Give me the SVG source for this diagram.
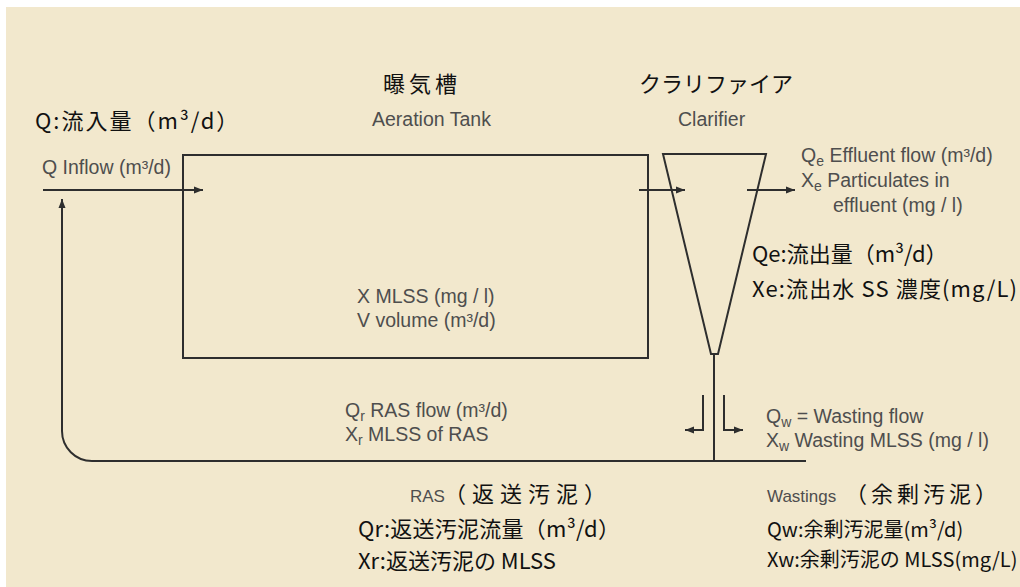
<svg xmlns="http://www.w3.org/2000/svg" width="1020" height="587" viewBox="0 0 1020 587">
<defs>
<style>
.en{font-family:"Liberation Sans",Arial,sans-serif;font-size:19.5px;fill:#4e4e4e}
.jp{font-family:"Noto Sans CJK JP","Noto Sans",sans-serif;font-size:22px;fill:#111}
.ln{fill:none;stroke:#2e2e2e;stroke-width:2}
.sub{font-size:14px}
.sm{font-size:17px}
</style>
<marker id="ah" markerUnits="userSpaceOnUse" markerWidth="9" markerHeight="8" refX="9" refY="4" orient="auto">
<path d="M0,0.5 L9,4 L0,7.5 z" fill="#2e2e2e"/>
</marker>
</defs>
<rect x="0" y="0" width="1020" height="587" fill="#ffffff"/>
<rect x="6" y="7" width="1014" height="580" fill="#F2E8CD"/>

<g id="aeration-tank">
<rect class="ln" x="183" y="155" width="465" height="203"/>
<text class="jp" x="383" y="92" letter-spacing="4">曝気槽</text>
<text class="en" x="372" y="126">Aeration Tank</text>
<text class="en" x="357" y="303">X MLSS (mg / l)</text>
<text class="en" x="357" y="327">V volume (m³/d)</text>
</g>

<g id="clarifier">
<path class="ln" d="M663,154 H766 L718,354 H711 Z"/>
<text class="jp" x="639" y="92">クラリファイア</text>
<text class="en" x="678" y="126">Clarifier</text>
</g>

<g id="inflow">
<text class="jp" x="35" y="129" letter-spacing="2">Q:流入量（m³/d）</text>
<text class="en" x="42" y="174">Q Inflow (m³/d)</text>
</g>

<g id="effluent">
<text class="en" x="801" y="162">Q<tspan class="sub" dy="4">e</tspan><tspan dy="-4"> Effluent flow (m³/d)</tspan></text>
<text class="en" x="801" y="187">X<tspan class="sub" dy="4">e</tspan><tspan dy="-4"> Particulates in</tspan></text>
<text class="en" x="833" y="212">effluent (mg / l)</text>
<text class="jp" x="752" y="262">Qe:流出量（m³/d）</text>
<text class="jp" x="752" y="297" textLength="265">Xe:流出水 SS 濃度(mg/L)</text>
</g>

<g id="ras">
<text class="en" x="345" y="417">Q<tspan class="sub" dy="4">r</tspan><tspan dy="-4"> RAS flow (m³/d)</tspan></text>
<text class="en" x="345" y="441">X<tspan class="sub" dy="4">r</tspan><tspan dy="-4"> MLSS of RAS</tspan></text>
<text class="en sm" x="410" y="502">RAS</text>
<text class="jp" x="444" y="502" letter-spacing="6">（返送汚泥）</text>
<text class="jp" x="358" y="537" textLength="262">Qr:返送汚泥流量（m³/d）</text>
<text class="jp" x="358" y="569">Xr:返送汚泥の MLSS</text>
</g>

<g id="wastings">
<text class="en" x="766" y="423">Q<tspan class="sub" dy="4">w</tspan><tspan dy="-4"> = Wasting flow</tspan></text>
<text class="en" x="766" y="447">X<tspan class="sub" dy="4">w</tspan><tspan dy="-4"> Wasting MLSS (mg / l)</tspan></text>
<text class="en sm" x="767" y="502">Wastings</text>
<text class="jp" x="845" y="502" letter-spacing="4">（余剰汚泥）</text>
<text class="jp" x="767" y="537" style="font-size:20px">Qw:余剰汚泥量(m³/d)</text>
<text class="jp" x="767" y="567" style="font-size:20px">Xw:余剰汚泥の MLSS(mg/L)</text>
</g>

<g id="connectors">
<line class="ln" x1="43" y1="190" x2="203" y2="190" marker-end="url(#ah)"/>
<line class="ln" x1="639" y1="190" x2="685" y2="190" marker-end="url(#ah)"/>
<line class="ln" x1="747" y1="190" x2="795" y2="190" marker-end="url(#ah)"/>
<line class="ln" x1="714" y1="354" x2="714" y2="461"/>
<path class="ln" d="M806,461 H92 A30,30 0 0 1 62,431 V199" marker-end="url(#ah)"/>
<path class="ln" d="M703,395 V430 H685" marker-end="url(#ah)"/>
<path class="ln" d="M724,395 V430 H743" marker-end="url(#ah)"/>
</g>
</svg>
